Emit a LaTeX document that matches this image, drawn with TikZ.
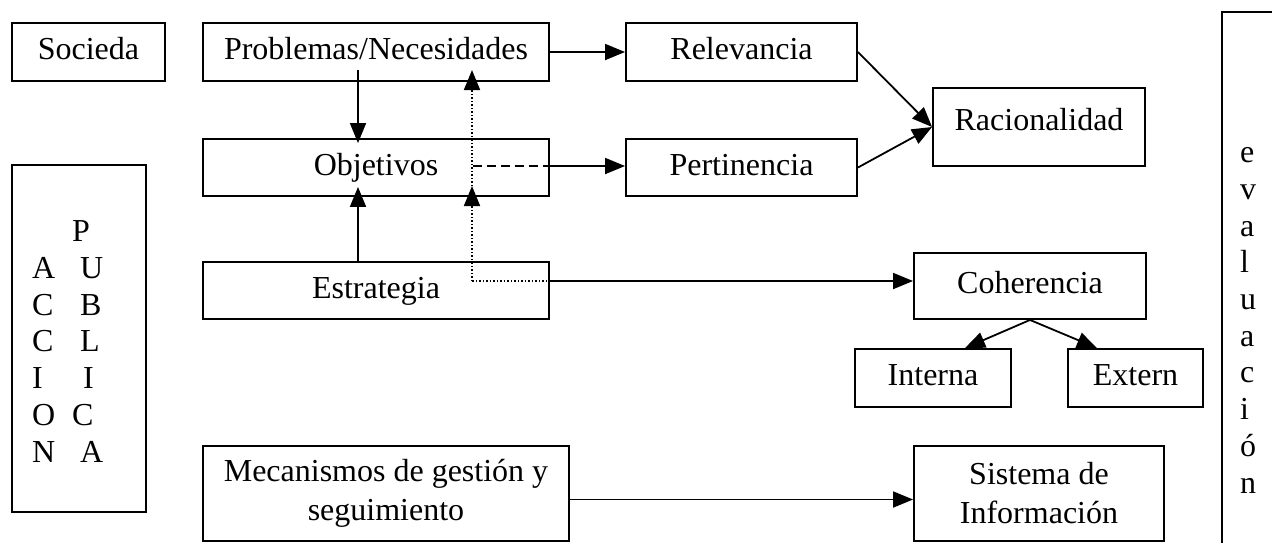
\documentclass[tikz,border=0pt]{standalone}
\usepackage{fontspec}
\setmainfont{Liberation Serif}
\usetikzlibrary{arrows.meta}
\tikzset{
  boxbase/.style={draw, line width=1.9pt, inner sep=0pt, align=center,
    font=\fontsize{32pt}{39pt}\selectfont},
  box/.style={boxbase, text height=22pt, text depth=7pt},
  lbl/.style={inner sep=0pt, align=left, font=\fontsize{32pt}{36.7pt}\selectfont},
  arr/.style={line width=1.8pt, -{Triangle[length=20pt,width=16pt]}},
  dotline/.style={line width=1.7pt, dash pattern=on 1.5pt off 2pt},
  dashline/.style={line width=1.8pt, dash pattern=on 9pt off 5pt}
}
\begin{document}
\begin{tikzpicture}[x=1pt,y=-1pt]
\useasboundingbox (0,0) rectangle (1272,542);
\fill[white] (0,0) rectangle (1272,542);
% boxes
\node[box, minimum width=153pt, minimum height=58pt] (soc) at (88.5,52) {Socieda};
\node[box, minimum width=346pt, minimum height=58pt] (prob) at (376,52) {Problemas/Necesidades};
\node[box, minimum width=346pt, minimum height=57pt] (obj) at (376,167.5) {Objetivos};
\node[box, minimum width=346pt, minimum height=57pt] (est) at (376,290.5) {Estrategia};
\node[boxbase, minimum width=366pt, minimum height=95pt] (mec) at (386,493.5) {Mecanismos de gestión y\\seguimiento};
\node[boxbase, minimum width=134pt, minimum height=347pt] (acc) at (79,338.5) {};
\node[box, minimum width=231pt, minimum height=58pt] (rel) at (741.5,52) {Relevancia};
\node[box, minimum width=231pt, minimum height=57pt] (per) at (741.5,167.5) {Pertinencia};
\node[box, minimum width=212pt, minimum height=78pt, text depth=16pt] (rac) at (1039,127) {Racionalidad};
\node[box, minimum width=232pt, minimum height=66pt] (coh) at (1030,286) {Coherencia};
\node[box, minimum width=156pt, minimum height=58pt] (int) at (933,378) {Interna};
\node[box, minimum width=135pt, minimum height=58pt] (ext) at (1135.5,378) {Extern};
\node[boxbase, minimum width=250pt, minimum height=95pt] (sis) at (1039,493.5) {Sistema de\\Información};
\node[boxbase, minimum width=80pt, minimum height=560pt] (eva) at (1262,292) {};
% vertical texts (base anchor = baseline of the last line)
\node[lbl, anchor=base west] (acctxt) at (32,462) {\makebox[40pt][l]{}P\\
\makebox[48pt][l]{A}U\\
\makebox[48pt][l]{C}B\\
\makebox[48pt][l]{C}L\\
\makebox[51pt][l]{I}I\\
\makebox[40pt][l]{O}C\\
\makebox[48pt][l]{N}A};
\node[lbl, anchor=base west] (evatxt) at (1240,493) {e\\v\\a\\l\\u\\a\\c\\i\\ó\\n};
% coordinates for dotted / dashed connectors
\coordinate (d0) at (472,281);
\coordinate (dE) at (549,281);
\coordinate (dO) at (472,186);
\coordinate (dP) at (472,70);
\coordinate (q0) at (473,166);
\coordinate (qE) at (549,166);
% connectors
\draw[arr] (prob.east) -- (rel.west);
\draw[arr] ([xshift=-18pt,yshift=12pt]prob.south) -- ([xshift=-18pt,yshift=-5pt]obj.north);
\draw[arr] ([xshift=-18pt]est.north) -- ([xshift=-18pt,yshift=10pt]obj.south);
\draw[dotline] (d0) -- (dE);
\draw[dotline, -{Triangle[length=20pt,width=16pt]}] (d0) -- (dO);
\draw[dotline, -{Triangle[length=20pt,width=16pt]}] (dO) -- (dP);
\draw[arr] (dE) -- (dE -| coh.west);
\draw[dashline] (q0) -- (qE);
\draw[arr] (qE) -- (qE -| per.west);
\draw[arr] (rel.east) -- (rac.west);
\draw[arr] (per.east) -- (rac.west);
\draw[arr] (coh.south) -- ([xshift=32pt]int.north);
\draw[arr] (coh.south) -- ([xshift=-38.5pt]ext.north);
\coordinate (m0) at ([yshift=-6pt]mec.east);
\draw[arr] (m0) -- (m0 -| sis.west);
\end{tikzpicture}
\end{document}
